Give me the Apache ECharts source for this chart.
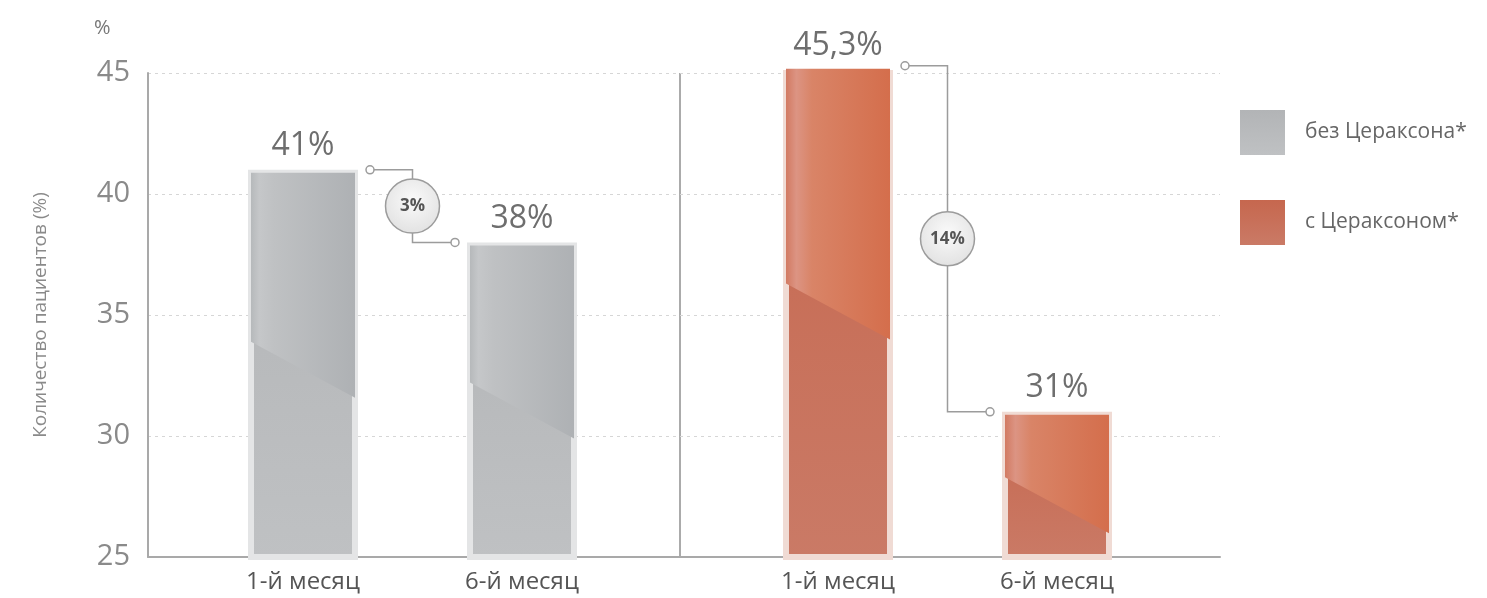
<!DOCTYPE html>
<html>
<head>
<meta charset="utf-8">
<script src="https://cdn.jsdelivr.net/npm/echarts@6/dist/echarts.min.js"></script>
<style>
html, body { margin: 0; padding: 0; background: #fff; }
#chart { width: 1487px; height: 598px; }
</style>
</head>
<body>
<div id="chart"></div>
<script>
// данные графика
const months = ['1-й месяц', '6-й месяц'];
const withoutCeraxon = [41, 38];
const withCeraxon = [45.3, 31];
const dropWithout = '3%';
const dropWith = '14%';
const yTicks = [25, 30, 35, 40, 45];
const seriesNames = ['без Цераксона*', 'с Цераксоном*'];

const chart = echarts.init(document.getElementById('chart'));

const BAR_W = 110;
const BORDER = 6;
const FONT = '"Open Sans", "Noto Sans", sans-serif';
const TOP = 73, BOTTOM = 41;

function fmt(v) {
    return String(v).replace('.', ',') + '%';
}

function vgrad(a, b) {
    return new echarts.graphic.LinearGradient(0, 0, 0, 1, [
        { offset: 0, color: a }, { offset: 1, color: b }
    ]);
}

function hgrad(stops) {
    return new echarts.graphic.LinearGradient(0, 0, 1, 0,
        stops.map(s => ({ offset: s[0], color: s[1] })));
}

// блик в верхней части столбца (диагональный срез)
function gloss(stops) {
    return function (params, api) {
        const top = api.coord([api.value(0), api.value(1)]);
        const base = api.coord([api.value(0), yTicks[0]]);
        const half = BAR_W / 2 - BORDER / 2;
        const x0 = top[0] - half, x1 = top[0] + half;
        const y0 = top[1] + BORDER / 2;
        const yl = y0 + (base[1] - y0) * 0.44;
        const yr = Math.min(yl + 56, base[1]);
        return {
            type: 'polygon',
            silent: true,
            shape: { points: [[x0, y0], [x1, y0], [x1, yr], [x0, yl]] },
            style: { fill: hgrad(stops) }
        };
    };
}

// выноска со снижением показателя
function connector(label) {
    return function (params, api) {
        const a = api.coord([api.value(0), api.value(1)]);
        const b = api.coord([api.value(2), api.value(3)]);
        const off = BAR_W / 2 + BORDER / 2 + 9;
        const xs = a[0] + off, xe = b[0] - off, xm = (a[0] + b[0]) / 2;
        const ym = (a[1] + b[1]) / 2;
        const line = { stroke: '#9c9c9c', lineWidth: 1.5 };
        return {
            type: 'group',
            silent: true,
            children: [
                { type: 'polyline', shape: { points: [[xs, a[1]], [xm, a[1]], [xm, b[1]], [xe, b[1]]] },
                  style: Object.assign({ fill: null }, line) },
                { type: 'circle', shape: { cx: xs, cy: a[1], r: 4 }, style: Object.assign({ fill: '#fff' }, line) },
                { type: 'circle', shape: { cx: xe, cy: b[1], r: 4 }, style: Object.assign({ fill: '#fff' }, line) },
                { type: 'circle', shape: { cx: xm, cy: ym, r: 27 },
                  style: Object.assign({
                      fill: new echarts.graphic.RadialGradient(0.5, 0.4, 0.6, [
                          { offset: 0, color: '#fafafa' }, { offset: 1, color: '#e2e2e2' }
                      ])
                  }, line) },
                { type: 'text', style: { x: xm, y: ym, text: label, align: 'center', verticalAlign: 'middle',
                  font: 'bold 17px ' + FONT, fill: '#555' } }
            ]
        };
    };
}

const grayColor = vgrad('#b2b4b6', '#bfc1c3');
const redColor = vgrad('#c6674e', '#ca7a66');

const catAxis = (grid) => ({
    type: 'category', gridIndex: grid, data: months,
    axisLine: { show: false }, axisTick: { show: false },
    axisLabel: { fontSize: 24, color: '#555', fontFamily: FONT, margin: 13 }
});
const hiddenY = (grid) => ({
    type: 'value', gridIndex: grid, min: 25, max: 45, show: false
});

const barLabel = {
    show: true, position: 'top', distance: 8,
    formatter: p => fmt(p.value),
    fontSize: 32, color: '#6e6e6e', fontFamily: FONT
};

const option = {
    backgroundColor: '#fff',
    animation: false,
    grid: [
        { left: 148, right: 267, top: TOP, bottom: BOTTOM },
        { left: 193.5, width: 438, top: TOP, bottom: BOTTOM },
        { left: 728.5, width: 438, top: TOP, bottom: BOTTOM }
    ],
    xAxis: [
        { type: 'value', gridIndex: 0, min: 0, max: 1,
          axisLine: { show: true, lineStyle: { color: '#a9a9a9', width: 2 } },
          axisTick: { show: false }, axisLabel: { show: false }, splitLine: { show: false } },
        catAxis(1),
        catAxis(2)
    ],
    yAxis: [
        { type: 'value', gridIndex: 0, min: yTicks[0], max: yTicks[yTicks.length - 1], interval: 5,
          name: 'Количество пациентов (%)', nameLocation: 'middle', nameRotate: 90, nameGap: 98,
          nameTextStyle: { fontSize: 19, color: '#8a8a8a', fontFamily: FONT },
          axisLine: { show: true, lineStyle: { color: '#a9a9a9', width: 2 } },
          axisTick: { show: false },
          axisLabel: { fontSize: 29, color: '#8a8a8a', fontFamily: FONT, margin: 18 },
          splitLine: { show: true, lineStyle: { color: '#d6d6d6', type: [3, 4], width: 1 } } },
        hiddenY(1),
        hiddenY(2)
    ],
    legend: {
        orient: 'vertical', left: 1235, top: 105,
        data: seriesNames, icon: 'rect',
        itemWidth: 45, itemHeight: 45, itemGap: 45,
        itemStyle: { borderWidth: 0 },
        textStyle: { fontSize: 21, color: '#666', fontFamily: FONT, padding: [0, 0, 0, 15] },
        selectedMode: false
    },
    graphic: [
        { type: 'text', left: 94, top: 18, style: { text: '%', font: '20px ' + FONT, fill: '#777' } },
        { type: 'line', shape: { x1: 680, y1: TOP, x2: 680, y2: 598 - BOTTOM },
          style: { stroke: '#ababab', lineWidth: 2 } }
    ],
    series: [
        { name: seriesNames[0], type: 'bar', xAxisIndex: 1, yAxisIndex: 1, data: withoutCeraxon,
          barWidth: BAR_W, itemStyle: { color: grayColor, borderColor: '#e4e5e6', borderWidth: BORDER },
          label: barLabel, z: 2 },
        { name: seriesNames[1], type: 'bar', xAxisIndex: 2, yAxisIndex: 2, data: withCeraxon,
          barWidth: BAR_W, itemStyle: { color: redColor, borderColor: '#f0dbd4', borderWidth: BORDER },
          label: barLabel, z: 2 },
        { type: 'custom', xAxisIndex: 1, yAxisIndex: 1, z: 3,
          data: withoutCeraxon.map((v, i) => [i, v]),
          encode: { x: 0, y: 1 },
          renderItem: gloss([[0, '#b6b9bb'], [0.08, '#c5c7c9'], [0.22, '#bfc1c3'], [1, '#aeb1b4']]) },
        { type: 'custom', xAxisIndex: 2, yAxisIndex: 2, z: 3,
          data: withCeraxon.map((v, i) => [i, v]),
          encode: { x: 0, y: 1 },
          renderItem: gloss([[0, '#d27a62'], [0.1, '#dc9483'], [0.25, '#d98467'], [1, '#d46e4c']]) },
        { type: 'custom', xAxisIndex: 1, yAxisIndex: 1, z: 4,
          data: [[0, withoutCeraxon[0], 1, withoutCeraxon[1]]],
          encode: { x: [0, 2], y: [1, 3] },
          renderItem: connector(dropWithout) },
        { type: 'custom', xAxisIndex: 2, yAxisIndex: 2, z: 4,
          data: [[0, withCeraxon[0], 1, withCeraxon[1]]],
          encode: { x: [0, 2], y: [1, 3] },
          renderItem: connector(dropWith) }
    ]
};

chart.setOption(option);
</script>
</body>
</html>
